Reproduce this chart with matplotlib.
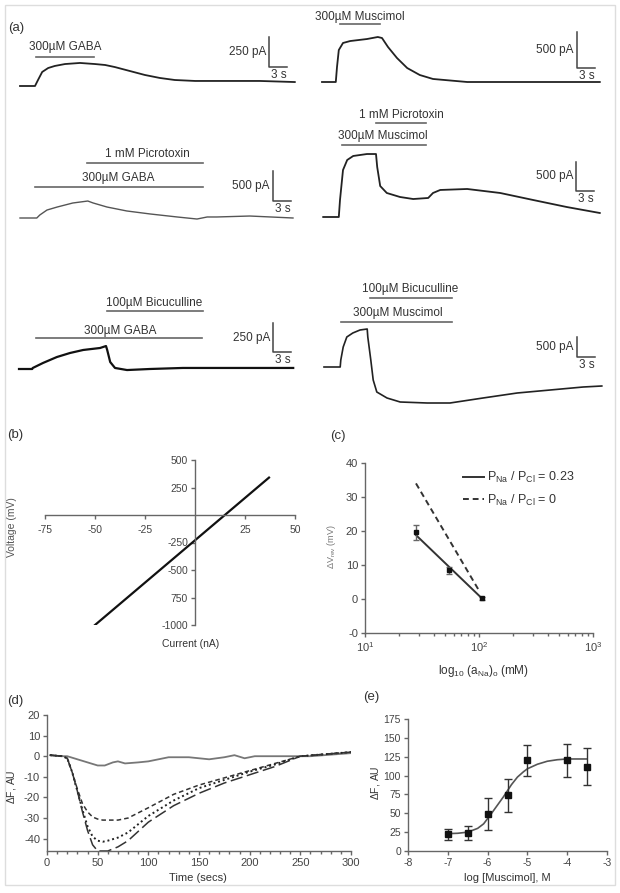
import matplotlib
matplotlib.use('Agg')
import matplotlib.pyplot as plt
from matplotlib.patches import Rectangle
from matplotlib.ticker import NullFormatter, MultipleLocator

plt.rcParams['font.family'] = ['Liberation Sans', 'DejaVu Sans']
plt.rcParams['text.color'] = '#333333'
plt.rcParams['axes.unicode_minus'] = False
plt.rcParams['mathtext.fontset'] = 'custom'
plt.rcParams['mathtext.rm'] = 'Liberation Sans'
plt.rcParams['mathtext.it'] = 'Liberation Sans:italic'

W, H = 620, 893

# ---- (a) whole-cell current traces: time (s), current (pA, inward drawn upward)
gaba_t = [0, 2.5, 3.0, 3.7, 4.7, 5.8, 7.5, 10.0, 12.5, 14.2, 15.8, 18.3, 20.8, 23.3, 25.8, 29.2, 35.0, 40.0, 45.8]
gaba_i = [0, 0, 50, 117, 150, 167, 183, 192, 183, 175, 158, 125, 92, 67, 50, 42, 42, 42, 33]
gaba_drugs = [('300µM GABA', 2.7, 12.3)]

musc_t = [0, 2.3, 2.5, 2.8, 3.5, 4.7, 7.5, 9.3, 10.0, 11.0, 12.5, 14.2, 16.3, 18.5, 24.2, 29.7, 35.2, 46.3]
musc_i = [0, 0, 208, 444, 542, 569, 597, 625, 611, 486, 333, 194, 97, 42, 0, 0, 0, 0]
musc_drugs = [('300µM Muscimol', 3.0, 9.7)]

gaba_ptx_t = [0, 2.8, 3.3, 4.5, 6.2, 8.8, 11.3, 12.2, 14.5, 17.8, 21.7, 26.2, 29.5, 31.2, 32.8, 38.3, 45.5]
gaba_ptx_i = [0, 0, 50, 133, 183, 250, 283, 250, 183, 117, 67, 17, -17, 17, 17, 33, 0]
gaba_ptx_drugs = [('1 mM Picrotoxin', 11.2, 30.5), ('300µM GABA', 2.5, 30.5)]

musc_ptx_t = [0.2, 2.8, 3.0, 3.5, 4.2, 5.2, 7.5, 9.0, 9.2, 9.7, 10.8, 13.0, 15.2, 17.7, 18.5, 19.7, 24.2, 29.7, 35.2, 40.8, 46.3]
musc_ptx_i = [0, 0, 293, 810, 983, 1052, 1086, 1086, 862, 534, 414, 345, 310, 328, 414, 466, 483, 414, 293, 172, 69]
musc_ptx_drugs = [('1 mM Picrotoxin', 9.0, 17.3), ('300µM Muscimol', 3.3, 17.3)]

gaba_bic_t = [0, 2.2, 2.3, 4.0, 6.3, 8.5, 10.7, 13.5, 14.5, 14.7, 15.2, 16.0, 18.0, 21.8, 27.3, 35.7, 45.7]
gaba_bic_i = [0, 0, 9, 52, 103, 138, 164, 181, 198, 164, 60, 9, -9, 0, 9, 9, 9]
gaba_bic_drugs = [('100µM Bicuculline', 14.7, 30.7), ('300µM GABA', 2.8, 30.5)]

musc_bic_t = [0, 2.7, 2.8, 3.2, 3.8, 4.8, 6.0, 7.2, 7.3, 7.8, 8.2, 8.8, 10.5, 12.7, 17.2, 21.0, 26.5, 32.2, 37.7, 43.2, 46.3]
musc_bic_i = [0, 0, 175, 500, 750, 850, 925, 950, 750, 175, -325, -625, -775, -875, -900, -900, -775, -650, -575, -500, -475]
musc_bic_drugs = [('100µM Bicuculline', 7.7, 21.3), ('300µM Muscimol', 2.8, 21.3)]

# ---- (b) I-V relation
iv_current = [-50, 37]
iv_voltage = [-1000, 340]

# ---- (c) reversal potential shift vs sodium activity
na_act = [28, 55, 106]
dvrev = [19.7, 8.5, 0.2]
dvrev_err = [2.2, 1.0, 0.5]
fit_023_x = [28, 106]
fit_023_y = [18.8, 0.2]
fit_0_x = [28, 102]
fit_0_y = [34, 2]

# ---- (d) fluorescence time courses
ctrl_t = [3, 15, 20, 30, 40, 50, 57, 65, 70, 77, 90, 100, 120, 140, 160, 175, 185, 195, 205, 230, 260, 300]
ctrl_f = [0.5, 0, 0, -1.5, -3, -4.5, -4.5, -3, -2.5, -3.5, -3, -2.5, -0.5, -0.5, -1.5, -0.5, 0.5, -1, 0, 0, 0, 1.5]
resp_t = [3, 15, 20, 25, 30, 35, 40, 45, 50, 55, 60, 70, 80, 100, 125, 150, 175, 200, 225, 250, 275, 300]
resp_dash = [0.5, 0, -1, -8, -16, -23, -27, -29.5, -30.5, -31, -31, -31, -30, -25, -18.5, -14, -10.5, -7, -3.5, 0, 1, 2]
resp_dot = [0.5, 0, -1, -8, -17, -26, -34, -39, -41, -41.5, -41, -39.5, -37, -29, -21.5, -15.5, -11.5, -7.5, -4, 0, 1, 2]
resp_long = [0.5, 0, -1, -8, -17, -27, -36, -43, -46, -46, -46, -44, -41, -32, -24, -18, -13, -9, -5, 0, 1, 2]

# ---- (e) concentration-response
log_musc = [-7, -6.5, -6, -5.5, -5, -4, -3.5]
df_mean = [22, 24, 49, 74, 120, 120, 112]
df_err = [7, 9, 21, 22, 20, 22, 25]
fit_x = [-7, -6.75, -6.5, -6.25, -6.1, -6.0, -5.9, -5.75, -5.6, -5.5, -5.4, -5.25, -5.1, -5.0, -4.75, -4.5, -4.25, -4.0, -3.75, -3.5]
fit_y = [23, 23.5, 25, 30, 36, 43, 50, 61, 72, 80, 88, 98, 105, 109, 115, 119, 121, 122, 122, 122]

fig = plt.figure(figsize=(W / 100, H / 100), dpi=100)


def px_axes(x0, y0, x1, y1):
    return fig.add_axes([x0 / W, 1 - y1 / H, (x1 - x0) / W, (y1 - y0) / H])


def ftext(x, y, s, **kw):
    kw.setdefault('ha', 'center')
    kw.setdefault('va', 'center')
    return fig.text(x / W, 1 - y / H, s, **kw)


def trace_panel(box, t0, base, bar_px, bar_pa, t, cur, drugs, drug_y, drug_txt,
                corner, color, lw):
    sx = 6.0  # px per second, 3 s bar = 18 px
    sy = bar_px / bar_pa
    x0, y0, x1, y1 = box
    ax = px_axes(*box)
    ax.set_xlim((x0 - t0) / sx, (x1 - t0) / sx)
    ax.set_ylim((base - y1) / sy, (base - y0) / sy)
    ax.axis('off')
    ax.plot(t, cur, color=color, lw=lw, solid_joinstyle='round')
    for (name, on, off), yb, (tx, ty) in zip(drugs, drug_y, drug_txt):
        yv = (base - yb) / sy
        ax.plot([on, off], [yv, yv], color='#666666', lw=1.2)
        ftext(tx, ty, name, fontsize=8.5)
    cx, cy = corner
    tc = (cx - t0) / sx
    ic = (base - cy) / sy
    ax.plot([tc, tc, tc + 3], [ic + bar_pa, ic, ic], color='#444444', lw=1.1)
    ftext(cx - 3, cy - bar_px / 2, '%d pA' % bar_pa, fontsize=8.5, ha='right')
    ftext(cx + 10, cy + 8, '3 s', fontsize=8.5)


trace_panel((10, 10, 300, 100), 20, 86, 30, 250, gaba_t, gaba_i, gaba_drugs,
            [57], [(65, 47)], (269, 67), '#222222', 1.3)
trace_panel((310, 5, 610, 100), 322, 82, 36, 500, musc_t, musc_i, musc_drugs,
            [24], [(360, 17)], (577, 68), '#222222', 1.3)
trace_panel((10, 140, 300, 235), 20, 218, 30, 500, gaba_ptx_t, gaba_ptx_i, gaba_ptx_drugs,
            [163, 187], [(147, 154), (118, 178)], (273, 201), '#555555', 1.0)
trace_panel((310, 105, 610, 235), 322, 217, 29, 500, musc_ptx_t, musc_ptx_i, musc_ptx_drugs,
            [123, 145], [(401, 115), (383, 136)], (576, 191), '#222222', 1.3)
trace_panel((10, 290, 300, 390), 19, 369, 29, 250, gaba_bic_t, gaba_bic_i, gaba_bic_drugs,
            [311, 338], [(154, 303), (120, 331)], (273, 352), '#111111', 1.6)
trace_panel((310, 280, 610, 415), 324, 367, 20, 500, musc_bic_t, musc_bic_i, musc_bic_drugs,
            [298, 322], [(410, 289), (398, 313)], (577, 357), '#222222', 1.2)

axis_col = '#666666'


def style(ax, size):
    for s in ['top', 'right']:
        ax.spines[s].set_visible(False)
    for s in ['left', 'bottom']:
        ax.spines[s].set_color(axis_col)
        ax.spines[s].set_linewidth(1.0)
    ax.tick_params(which='both', colors=axis_col, labelcolor='#444444', labelsize=size,
                   direction='out', length=3, width=1.0, pad=2)
    ax.tick_params(which='minor', length=2)
    ax.patch.set_visible(False)


# ---- (b)
axb = px_axes(45, 460, 295, 625)
axb.plot(iv_current, iv_voltage, color='#111111', lw=1.6)
axb.set_xlim(-75, 50)
axb.set_ylim(-1000, 500)
style(axb, 7.5)
axb.spines['left'].set_position(('data', 0))
axb.spines['bottom'].set_position(('data', 0))
axb.set_xticks([-75, -50, -25, 25, 50])
axb.set_yticks([500, 250, -250, -500, -750, -1000],
               labels=['500', '250', '-250', '-500', '750', '-1000'])
axb.tick_params(axis='x', pad=4)
ftext(191, 644, 'Current (nA)', fontsize=7.5)
ftext(12, 527, 'Voltage (mV)', fontsize=7.5, rotation=90, color='#555555')

# ---- (c)
axc = px_axes(365, 463, 593, 633)
axc.set_xscale('log')
axc.set_xlim(10, 1000)
axc.set_ylim(-10, 40)
style(axc, 8)
axc.plot(fit_023_x, fit_023_y, color='#333333', lw=1.4, label=r'P$_{\mathrm{Na}}$ / P$_{\mathrm{Cl}}$ = 0.23')
axc.plot(fit_0_x, fit_0_y, color='#333333', lw=1.4, ls=(0, (3, 2)), label=r'P$_{\mathrm{Na}}$ / P$_{\mathrm{Cl}}$ = 0')
axc.errorbar(na_act, dvrev, yerr=dvrev_err, fmt='s', ms=3.5, color='#111111',
             ecolor='#666666', elinewidth=1, capsize=2)
axc.set_xticks([10, 100, 1000], labels=['10$^1$', '10$^2$', '10$^3$'])
axc.xaxis.set_minor_formatter(NullFormatter())
axc.set_yticks([-10, 0, 10, 20, 30, 40], labels=['-0', '0', '10', '20', '30', '40'])
axc.legend(frameon=False, loc='upper left', bbox_to_anchor=(463 / W, 1 - 470 / H),
           bbox_transform=fig.transFigure, fontsize=9, handlelength=1.7,
           handletextpad=0.25, labelspacing=0.6, borderpad=0, borderaxespad=0)
ftext(483, 671, r'log$_{10}$ (a$_{\mathrm{Na}}$)$_{\mathrm{o}}$ (mM)', fontsize=8.5)
ftext(332, 547, r'$\Delta$V$_{\mathrm{rev}}$ (mV)', fontsize=6.5, rotation=90, color='#777777')

# ---- (d)
axd = px_axes(47, 715, 351, 851)
axd.plot(ctrl_t, ctrl_f, color='#777777', lw=1.3)
axd.plot(resp_t, resp_dash, color='#333333', lw=1.1, ls=(0, (3, 2)))
axd.plot(resp_t, resp_dot, color='#222222', lw=1.4, ls=(0, (1, 1.5)))
axd.plot(resp_t, resp_long, color='#333333', lw=1.1, ls=(0, (8, 3)))
axd.set_xlim(0, 300)
axd.set_ylim(-46, 20)
style(axd, 8)
axd.set_xticks([0, 50, 100, 150, 200, 250, 300])
axd.xaxis.set_minor_locator(MultipleLocator(10))
axd.set_yticks([20, 10, 0, -10, -20, -30, -40])
ftext(198, 878, 'Time (secs)', fontsize=8)
ftext(12, 787, r'$\Delta$F, AU', fontsize=7.5, rotation=90)

# ---- (e)
axe = px_axes(408, 719, 607, 851)
axe.plot(fit_x, fit_y, color='#555555', lw=1.2)
axe.errorbar(log_musc, df_mean, yerr=df_err, fmt='s', ms=5, color='#111111',
             ecolor='#333333', elinewidth=1, capsize=3)
axe.set_xlim(-8, -3)
axe.set_ylim(0, 175)
style(axe, 7.5)
axe.set_xticks([-8, -7, -6, -5, -4, -3])
axe.set_yticks([0, 25, 50, 75, 100, 125, 150, 175])
ftext(507, 878, 'log [Muscimol], M', fontsize=8)
ftext(376, 783, r'$\Delta$F, AU', fontsize=7.5, rotation=90)

# panel letters
for lx, ly, s in [(8, 28, '(a)'), (7, 435, '(b)'), (330, 436, '(c)'),
                  (7, 701, '(d)'), (363, 697, '(e)')]:
    ftext(lx, ly, s, fontsize=9.5, ha='left')

fig.add_artist(Rectangle((5 / W, 1 - 885 / H), 610 / W, 880 / H, transform=fig.transFigure,
                         fill=False, ec='#dddddd', lw=1))

fig.savefig('out.png', dpi=100)
